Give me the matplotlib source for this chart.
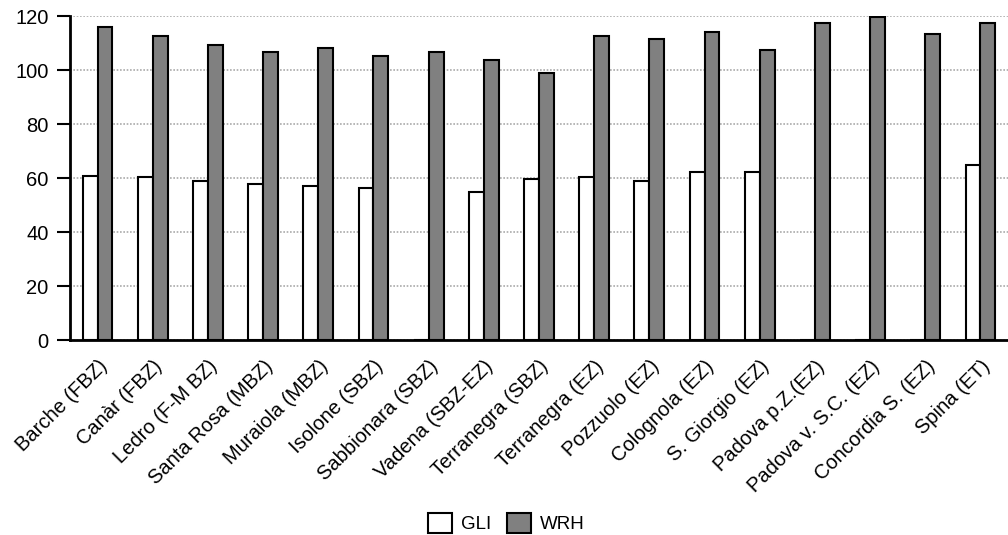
import matplotlib
matplotlib.use("Agg")
import matplotlib.pyplot as plt
import numpy as np

plt.rcParams['font.family'] = ['Liberation Sans', 'DejaVu Sans']

categories = ["Barche (FBZ)", "Canàr (FBZ)", "Ledro (F-M BZ)", "Santa Rosa (MBZ)",
              "Muraiola (MBZ)", "Isolone (SBZ)", "Sabbionara (SBZ)", "Vadena (SBZ-EZ)",
              "Terranegra (SBZ)", "Terranegra (EZ)", "Pozzuolo (EZ)", "Colognola (EZ)",
              "S. Giorgio (EZ)", "Padova p.Z.(EZ)", "Padova v. S.C. (EZ)",
              "Concordia S. (EZ)", "Spina (ET)"]
gli = [60.6, 60.4, 58.8, 57.9, 57.2, 56.4, np.nan, 54.8, 59.6, 60.5, 58.9, 62.1, 62.1,
       np.nan, np.nan, np.nan, 64.7]
wrh = [115.8, 112.6, 109.3, 106.8, 108.3, 105.2, 106.8, 103.6, 98.8, 112.6, 111.6, 114.2,
       107.5, 117.4, 119.8, 113.3, 117.4]
yticks = [0, 20, 40, 60, 80, 100, 120]

fig = plt.figure(figsize=(10.08, 5.35), dpi=100)
ax = fig.add_axes([70/1008, 1-340/535, 1-70/1008, (340-16)/535])

x = np.arange(len(categories))
w = 0.27
ax.bar(x - w/2, np.nan_to_num(gli, nan=0.0), w, color='white', edgecolor='black',
       linewidth=1.5, label='GLI', zorder=3)
ax.bar(x + w/2, wrh, w, color='#808080', edgecolor='black', linewidth=1.5,
       label='WRH', zorder=3)

ax.set_xlim(-0.5, len(categories) - 0.5)
ax.set_ylim(0, 120)
ax.set_yticks(yticks)
ax.yaxis.grid(True, linestyle=(0, (1.0, 1.0)), color='#aaaaaa', linewidth=1.2, zorder=0)
ax.set_axisbelow(True)
for s in ['top', 'right']:
    ax.spines[s].set_visible(False)
ax.spines['left'].set_linewidth(2)
ax.spines['bottom'].set_linewidth(2)
ax.tick_params(axis='y', length=9.5, width=1.5, labelsize=14.5, pad=6)
ax.tick_params(axis='x', length=0, labelsize=14.5, pad=12)
ax.set_xticks(x)
ax.set_xticklabels(categories, rotation=45, ha='right', rotation_mode='anchor')

fig.legend(loc='lower center', bbox_to_anchor=(0.502, -0.028), ncol=2, frameon=False,
           fontsize=13.5, handlelength=1.3, handleheight=1.3, handletextpad=0.45,
           columnspacing=0.85)

fig.savefig('out.png', dpi=100)
